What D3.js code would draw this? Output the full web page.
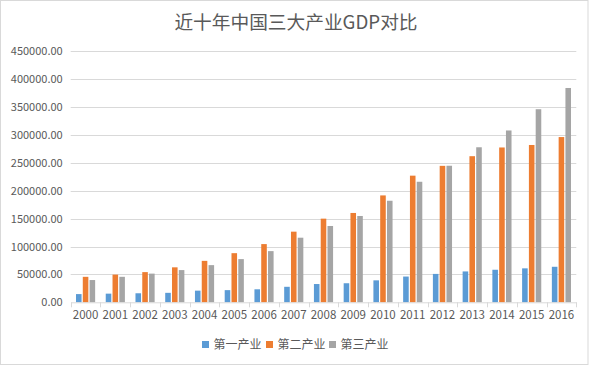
<!DOCTYPE html>
<html><head><meta charset="utf-8">
<script src="https://cdn.jsdelivr.net/npm/d3@7"></script>
<style>
body{margin:0;background:#fff;}
svg{display:block;font-family:"Noto Sans CJK SC","Microsoft YaHei",sans-serif;}
</style></head>
<body><svg id="c" width="591" height="366"></svg>
<script>
const years = ["2000","2001","2002","2003","2004","2005","2006","2007","2008","2009","2010","2011","2012","2013","2014","2015","2016"];
const primary = [14717.4,15502.5,16190.2,16970.2,20904.3,21806.7,23317.0,27788.0,32753.2,34161.8,39362.6,46163.1,50902.3,55329.1,58343.5,60862.1,63670.7];
const secondary = [45664.8,49660.7,54105.5,62697.4,74286.9,88084.4,104361.8,126633.6,149956.6,160171.7,191629.8,227038.8,244643.3,261956.1,277571.8,282040.3,296236.0];
const tertiary = [39897.9,45700.0,51421.7,57754.4,66648.9,77427.8,91759.7,115810.7,136805.8,154747.9,182038.0,216098.6,244821.9,277959.3,308058.6,346149.7,384220.5];
const seriesNames = ["第一产业","第二产业","第三产业"];
const yTicks = [0,50000,100000,150000,200000,250000,300000,350000,400000,450000];
const title = "近十年中国三大产业GDP对比";

const colors = ["#5b9bd5","#ed7d31","#a5a5a5"];
const seriesData = [primary, secondary, tertiary];
const svg = d3.select("#c");
const m = {l:70.7, r:576.3, t:51.3, b:302.3};

svg.append("rect").attr("x",0.5).attr("y",0.5).attr("width",587.5).attr("height",364)
  .attr("fill","#fff").attr("stroke","#d9d9d9");

const x = d3.scaleBand().domain(years).range([m.l, m.r]).paddingInner(0).paddingOuter(0);
const y = d3.scaleLinear().domain([0,450000]).range([m.b, m.t]);
const xs = d3.scaleBand().domain(d3.range(3)).range([0, x.bandwidth()]).paddingInner(0.18).paddingOuter(0.78);

// gridlines
svg.append("g").selectAll("line").data(yTicks.filter(d=>d>0)).join("line")
  .attr("x1",m.l).attr("x2",m.r).attr("y1",d=>Math.round(y(d))+0.5).attr("y2",d=>Math.round(y(d))+0.5)
  .attr("stroke","#d9d9d9").attr("stroke-width",1);

// y axis labels
const yAxis = d3.axisLeft(y).tickValues(yTicks).tickFormat(d=>d3.format(".2f")(d)).tickSize(0).tickPadding(8);
const gy = svg.append("g").attr("transform",`translate(${m.l},0)`).call(yAxis);
gy.select(".domain").remove();
gy.selectAll("text").attr("fill","#595959").style("font-size","11px").attr("font-family","Noto Sans CJK SC");

// bars
const groups = svg.append("g").selectAll("g").data(seriesData).join("g").attr("fill",(d,i)=>colors[i]);
groups.each(function(vals, si){
  d3.select(this).selectAll("rect").data(vals).join("rect")
    .attr("x",(v,i)=>x(years[i]) + xs(si))
    .attr("width",xs.bandwidth())
    .attr("y",v=>y(v))
    .attr("height",v=>y(0)-y(v));
});

// x axis
const xAxis = d3.axisBottom(x).tickSize(0).tickPadding(9);
const gx = svg.append("g").attr("transform",`translate(0,${m.b})`).call(xAxis);
gx.select(".domain").attr("stroke","#d9d9d9");
gx.selectAll("text").attr("fill","#595959").style("font-size","11.5px").attr("font-family","Noto Sans CJK SC");
// category boundary tick marks
const bounds = years.map(d=>x(d)).concat([m.r]);
svg.append("g").selectAll("line").data(bounds).join("line")
  .attr("x1",d=>Math.round(d)+0.5).attr("x2",d=>Math.round(d)+0.5)
  .attr("y1",m.b).attr("y2",m.b+5).attr("stroke","#d9d9d9");

// title
svg.append("text").attr("x",296).attr("y",29).attr("text-anchor","middle")
  .attr("fill","#595959").style("font-size","18.7px").text(title);

// legend
const legX = [202, 266, 329];
const leg = svg.append("g").selectAll("g").data(seriesNames).join("g")
  .attr("transform",(d,i)=>`translate(${legX[i]},341)`);
leg.append("rect").attr("width",7).attr("height",7).attr("fill",(d,i)=>colors[i]);
leg.append("text").attr("x",11.5).attr("y",7.5).attr("fill","#595959").style("font-size","12px").text(d=>d);
</script></body></html>
